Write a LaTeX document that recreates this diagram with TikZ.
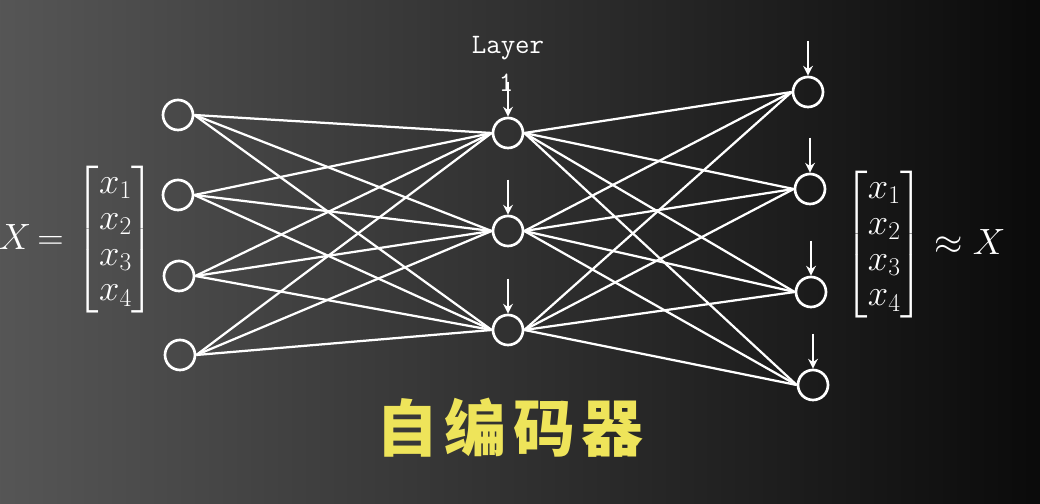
\RequirePackage{fix-cm}
\documentclass[tikz,border=0pt]{standalone}
\usepackage{amsmath}
\usepackage{fontspec}
\usepackage{tikz}
\usetikzlibrary{arrows.meta,positioning}
\newfontfamily\cjk[LetterSpace=10]{Noto Sans CJK SC}
\definecolor{bgleft}{RGB}{86,86,86}
\definecolor{bgmid}{RGB}{40,40,40}
\definecolor{bgright}{RGB}{10,10,10}
\definecolor{title}{RGB}{238,228,90}
\newcommand{\drawwire}{\draw[wire]}
\newcommand{\xvector}{\renewcommand{\arraystretch}{0.98}\begin{bmatrix}x_1\\x_2\\x_3\\x_4\end{bmatrix}}
\newcommand{\connectlayers}[2]{
    \foreach \a in {#1}{
      \foreach \b in {#2}{
        \drawwire (\a.east)--(\b.west);
      }
    }
}

\begin{document}
\begin{tikzpicture}[x=0.025cm,y=0.025cm,
  neuron/.style={circle,draw=white,line width=1.9pt,minimum size=0.75cm,inner sep=0pt},
  wire/.style={white,line width=1.6pt},
  feed/.style={white,line width=1.6pt,-{Stealth[length=7pt,width=7pt]}},
  lbl/.style={text=white,inner sep=0pt}]
\useasboundingbox (0,0) rectangle (1040,504);
\shade[left color=bgleft,middle color=bgmid,right color=bgright] (-6,-6) rectangle (1046,510);
% neurons
\foreach \n/\x/\y in {i1/178/389,i2/178/309,i3/179/228,i4/180/149,h1/508/371,h2/508/273,h3/508/174,o1/808/412,o2/810/315,o3/811/212,o4/813/119}{
    \node[neuron] (\n) at (\x,\y) {};
}
\connectlayers{i1,i2,i3,i4}{h1,h2,h3}
\connectlayers{h1,h2,h3}{o1,o2,o3,o4}
% arrows on top
\foreach \n in {h1,h2,h3,o1,o2,o3,o4}{
    \coordinate[above=0.875cm of \n.north] (t\n);
    \draw[feed] (t\n)--(\n.north);
}
\node[lbl,font=\ttfamily\fontsize{20}{20}\selectfont] (lay) at (508,456) {Layer};
\node[lbl,font=\ttfamily\fontsize{20}{20}\selectfont] (lay1) at (506,421) {1};
\node[lbl,font=\fontsize{26}{26}\selectfont] (xin) at (77,264) {$X\,{=}\,\xvector$};
\node[lbl,font=\fontsize{26}{26}\selectfont] (xout) at (925,259) {$\xvector\approx X$};
\node[lbl,text=title,font=\cjk\bfseries\fontsize{44}{48}\selectfont] (ttl) at (510,76) {自编码器};
\end{tikzpicture}
\end{document}
